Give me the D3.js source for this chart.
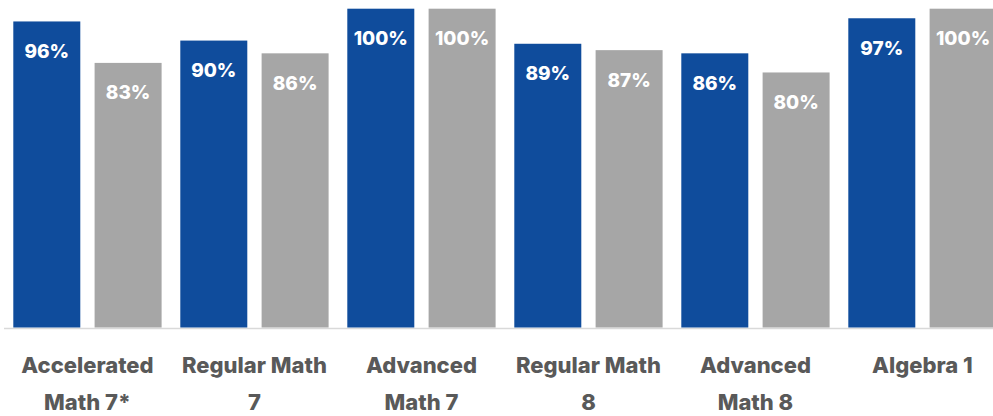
<!DOCTYPE html>
<html>
<head>
<meta charset="utf-8">
<script src="https://cdn.jsdelivr.net/npm/d3@7"></script>
<style>
  body { margin: 0; background: #fff; }
  svg { display: block; }
  .val { font-family: Inter, "Open Sans", sans-serif; font-weight: 800; fill: #fff; }
  .cat { font-family: Inter, "Open Sans", sans-serif; font-weight: 800; fill: #595959; }
</style>
</head>
<body>
<script>
//chart data
var categories = ["Accelerated Math 7*", "Regular Math 7", "Advanced Math 7", "Regular Math 8", "Advanced Math 8", "Algebra 1"];
var categoryLines = [["Accelerated", "Math 7*"], ["Regular Math", "7"], ["Advanced", "Math 7"], ["Regular Math", "8"], ["Advanced", "Math 8"], ["Algebra 1"]];
var seriesKeys = ["blue", "gray"];
var blueValues = [96, 90, 100, 89, 86, 97];
var grayValues = [83, 86, 100, 87, 80, 100];

var colors = { blue: "#0F4C9C", gray: "#A6A6A6" };

var width = 993,
    height = 416;

var svg = d3.select("body")
    .append("svg")
    .attr("width", width)
    .attr("height", height);

//outer band for each course, inner band for the two bars
var x0 = d3.scaleBand()
    .domain(categories)
    .range([13.3, 996.6])
    .paddingInner(0.112)
    .paddingOuter(0);

var x1 = d3.scaleBand()
    .domain(seriesKeys)
    .range([0, x0.bandwidth()])
    .paddingInner(0.176);

var y = d3.scaleLinear()
    .domain([0, 100])
    .range([327.5, 8.7]);

var rows = categories.map(function(c, i){
    return { cat: c, values: [
        { key: "blue", value: blueValues[i] },
        { key: "gray", value: grayValues[i] }
    ]};
});

//baseline
svg.append("line")
    .attr("x1", 4)
    .attr("x2", width)
    .attr("y1", 328.5)
    .attr("y2", 328.5)
    .attr("stroke", "#D9D9D9")
    .attr("stroke-width", 1.5);

var groups = svg.selectAll(".group")
    .data(rows)
    .enter()
    .append("g")
    .attr("class", "group")
    .attr("transform", function(d){ return "translate(" + x0(d.cat) + ",0)"; });

groups.selectAll("rect")
    .data(function(d){ return d.values; })
    .enter()
    .append("rect")
    .attr("x", function(d){ return x1(d.key); })
    .attr("y", function(d){ return y(d.value); })
    .attr("width", x1.bandwidth())
    .attr("height", function(d){ return y(0) - y(d.value); })
    .attr("fill", function(d){ return colors[d.key]; });

groups.selectAll(".val")
    .data(function(d){ return d.values; })
    .enter()
    .append("text")
    .attr("class", "val")
    .attr("x", function(d){ return x1(d.key) + x1.bandwidth() / 2; })
    .attr("y", function(d){ return y(d.value) + 36.5; })
    .attr("text-anchor", "middle")
    .style("font-size", "19px")
    .text(function(d){ return d.value + "%"; });

//course labels, wrapped as in the original
var labels = svg.selectAll(".cat")
    .data(categories)
    .enter()
    .append("text")
    .attr("class", "cat")
    .attr("text-anchor", "middle")
    .style("font-size", "22px")
    .attr("x", function(d){ return x0(d) + x0.bandwidth() / 2; });

labels.selectAll("tspan")
    .data(function(d, i){ return categoryLines[i]; })
    .enter()
    .append("tspan")
    .attr("x", function(){ var p = this.parentNode; return p.getAttribute("x"); })
    .attr("y", function(d, i){ return 373 + i * 37; })
    .text(function(d){ return d; });
</script>
</body>
</html>
